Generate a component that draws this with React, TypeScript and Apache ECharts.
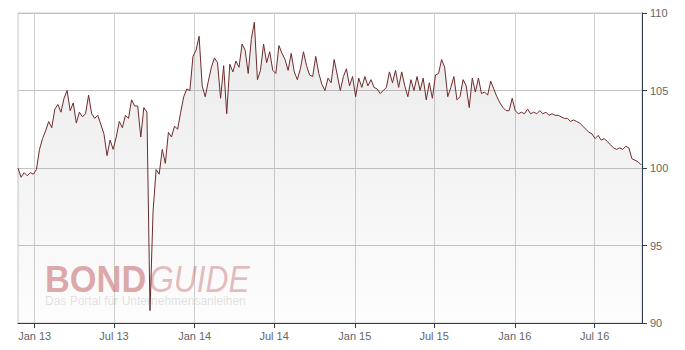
import React, { useEffect, useRef } from "react";
import * as echarts from "echarts";

// Weekly closing prices, first week starting 2012-11-24
const startDate = "2012-11-24";
const endDate = "2016-10-17";
const stepDays = 7;
const prices = [
  100.0, 99.4, 99.7, 99.5, 99.7, 99.6, 99.9, 101.2, 101.9, 102.4,
  103.0, 102.6, 103.8, 104.1, 103.6, 104.5, 105.0, 103.7, 104.2, 102.9,
  103.6, 103.3, 103.5, 104.7, 103.5, 103.2, 103.4, 102.8, 102.2, 100.8,
  101.8, 101.2, 102.0, 103.0, 102.6, 103.4, 103.2, 104.4, 104.0, 104.0,
  102.0, 103.9, 103.6, 90.8, 97.2, 99.9, 99.6, 101.2, 100.3, 102.3,
  102.0, 102.7, 102.5, 103.6, 104.6, 105.1, 105.0, 107.2, 107.6, 108.5,
  105.3, 104.6, 105.6, 106.5, 107.1, 106.8, 104.5, 106.6, 103.5, 106.7,
  106.2, 106.9, 106.5, 108.0, 107.6, 106.1, 108.3, 109.4, 105.7, 106.3,
  108.0, 106.8, 107.5, 106.3, 106.1, 107.9, 107.4, 107.0, 106.3, 107.4,
  106.2, 105.7, 106.4, 107.5, 106.6, 106.0, 105.9, 107.2, 106.1, 105.4,
  105.0, 105.8, 105.5, 107.0, 106.0, 105.0, 105.9, 106.4, 105.3, 105.9,
  104.6, 105.8, 105.2, 105.9, 105.3, 105.7, 105.2, 105.1, 104.8, 105.0,
  105.2, 106.2, 105.5, 106.3, 105.2, 106.2, 105.3, 104.6, 105.7, 105.0,
  105.9, 105.0, 105.8, 104.4, 105.5, 104.5, 106.0, 106.1, 107.0, 106.5,
  104.6, 105.2, 105.9, 104.4, 104.6, 105.7, 105.3, 103.9, 105.8, 104.9,
  105.8, 104.8, 104.9, 104.7, 105.6, 105.1, 104.6, 104.2, 103.9, 103.7,
  103.7, 104.5, 103.7, 103.5, 103.6, 103.5, 103.8, 103.5, 103.6, 103.5,
  103.7, 103.5, 103.6, 103.4, 103.5, 103.4, 103.4, 103.3, 103.2, 103.2,
  103.0, 103.1, 103.0, 102.9, 102.7, 102.5, 102.3, 102.2, 101.9, 102.1,
  101.8, 101.9, 101.7, 101.5, 101.3, 101.2, 101.3, 101.2, 101.4, 101.3,
  100.6, 100.5, 100.4, 100.2,
];
const tickDates = [
  "2013-01-01", "2013-07-01", "2014-01-01", "2014-07-01",
  "2015-01-01", "2015-07-01", "2016-01-01", "2016-07-01",
];
const tickLabels = [
  "Jan 13", "Jul 13", "Jan 14", "Jul 14",
  "Jan 15", "Jul 15", "Jan 16", "Jul 16",
];
const yTicks = [90, 95, 100, 105, 110];

const toMs = (s: string) => {
  const [y, m, d] = s.split("-").map(Number);
  return Date.UTC(y, m - 1, d);
};

export default function App() {
  const ref = useRef<HTMLDivElement>(null);
  useEffect(() => {
    if (!ref.current) return;
    const chart = echarts.init(ref.current, null, { renderer: "svg" });
    const t0 = toMs(startDate);
    const day = 86400000;
    const data = prices.map((v, i) => [t0 + i * stepDays * day, v]);
    const tickMs = tickDates.map(toMs);
    const labelFor = (v: number) => {
      let best = 0;
      for (let i = 1; i < tickMs.length; i++) {
        if (Math.abs(tickMs[i] - v) < Math.abs(tickMs[best] - v)) best = i;
      }
      return Math.abs(tickMs[best] - v) < day ? tickLabels[best] : "";
    };
    const axisColor = "#2c3e50";
    chart.setOption({
      animation: false,
      grid: {
        left: 18,
        right: 43,
        top: 13,
        bottom: 27,
        show: true,
        borderColor: "#c8c8c8",
        borderWidth: 1,
        backgroundColor: "transparent",
      },
      xAxis: {
        type: "value",
        min: t0,
        max: toMs(endDate),
        axisLine: { show: true, lineStyle: { color: axisColor, width: 1 } },
        axisTick: {
          show: true,
          length: 5,
          lineStyle: { color: axisColor },
          customValues: tickMs,
        },
        axisLabel: {
          customValues: tickMs,
          formatter: (v: number) => labelFor(v),
          color: "#666",
          fontSize: 11,
          fontFamily: "Liberation Sans",
          margin: 7,
        },
        splitLine: { show: true, lineStyle: { color: "#cfcfcf", width: 1 } },
      },
      yAxis: {
        type: "value",
        position: "right",
        min: yTicks[0],
        max: yTicks[yTicks.length - 1],
        interval: 5,
        axisLine: { show: true, lineStyle: { color: axisColor, width: 1 } },
        axisTick: { show: true, length: 5, lineStyle: { color: axisColor } },
        axisLabel: {
          color: "#666",
          fontSize: 11,
          fontFamily: "Liberation Sans",
          margin: 8,
        },
        splitLine: { show: true, lineStyle: { color: "#c4c4c4", width: 1 } },
      },
      graphic: [
        {
          type: "text",
          x: 45,
          y: 265,
          z: 1,
          scaleX: 0.93,
          style: {
            text: "BOND",
            font: 'bold 37px "Liberation Sans"',
            lineHeight: 29,
            fill: "rgba(200,95,100,0.55)",
            verticalAlign: "top",
          },
        },
        {
          type: "text",
          x: 149,
          y: 265,
          z: 1,
          scaleX: 0.86,
          style: {
            text: "GUIDE",
            font: 'italic 37px "Liberation Sans"',
            lineHeight: 29,
            fill: "rgba(200,95,100,0.42)",
            verticalAlign: "top",
          },
        },
        {
          type: "text",
          x: 45,
          y: 295,
          z: 1,
          style: {
            text: "Das Portal für Unternehmensanleihen",
            font: '12px "Liberation Sans"',
            lineHeight: 12,
            fill: "rgba(150,150,150,0.28)",
            verticalAlign: "top",
          },
        },
      ],
      series: [
        {
          type: "line",
          data,
          showSymbol: false,
          symbol: "none",
          z: 2,
          lineStyle: { color: "#6e2b2b", width: 1 },
          areaStyle: {
            origin: "start",
            color: new echarts.graphic.LinearGradient(0, 0, 0, 1, [
              { offset: 0, color: "rgba(110,110,110,0.2)" },
              { offset: 1, color: "rgba(110,110,110,0.02)" },
            ]),
          },
        },
      ],
    });
    return () => chart.dispose();
  }, []);
  return (
    <div
      ref={ref}
      style={{ position: "fixed", left: 0, top: 0, width: 685, height: 350, background: "#fff" }}
    />
  );
}
